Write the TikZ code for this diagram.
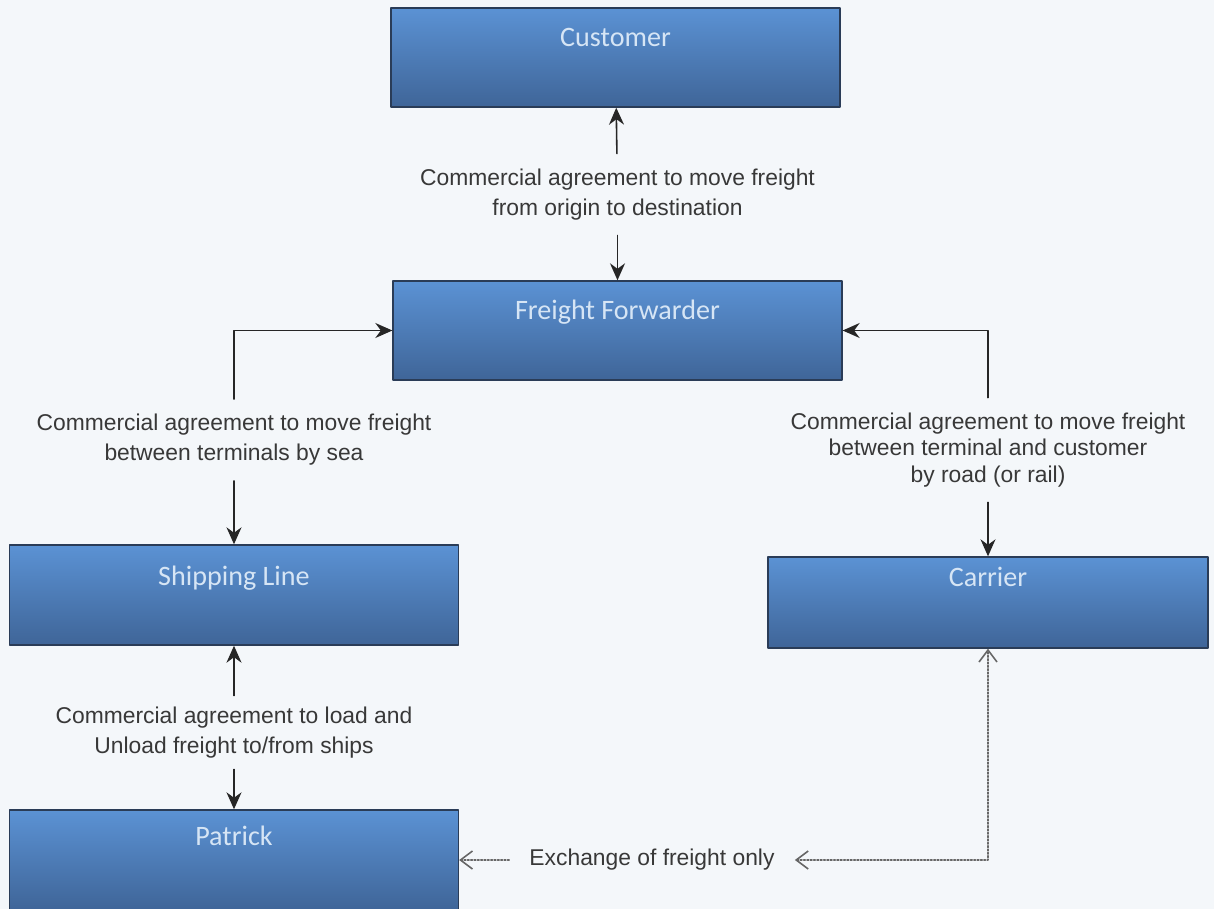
\documentclass[tikz,border=0pt]{standalone}
\usepackage{fontspec}
\setmainfont{Liberation Sans}
\newfontfamily\boxfont{Carlito}
\usetikzlibrary{arrows.meta}
\definecolor{paper}{HTML}{F4F7FA}
\definecolor{boxtop}{HTML}{5B92D4}
\definecolor{boxbot}{HTML}{3F6598}
\definecolor{boxline}{HTML}{2A3C57}
\definecolor{boxtext}{HTML}{D6E5F5}
\definecolor{labelgray}{HTML}{383838}
\tikzset{
  entity/.style={draw=boxline,line width=0.8pt,top color=boxtop,bottom color=boxbot,
    minimum width=8.98cm,inner sep=0pt,text height=0.76cm,text depth=1.22cm,
    text=boxtext,font=\boxfont\fontsize{16}{19}\selectfont},
  agreement/.style={text=labelgray,align=center,inner xsep=2pt,inner ysep=0.3cm,
    font=\fontsize{13}{17}\selectfont},
  link/.style={line width=0.9pt,draw=black!85,-{Stealth[length=3.4mm,width=3mm]}},
  exch/.style={densely dotted,line width=0.9pt,draw=black!60,
    {Straight Barb[length=2.4mm,width=3.6mm]}-{Straight Barb[length=2.4mm,width=3.6mm]}}
}
\begin{document}
\begin{tikzpicture}[line cap=round,line join=round,x=0.02cm,y=-0.02cm]
\fill[paper] (0,0) rectangle (1214,909);
\useasboundingbox (0,0) rectangle (1214,909);
\clip (0,0) rectangle (1214,909);
% boxes
\node[entity] (customer) at (615.5,57.5) {Customer};
\node[entity] (ff) at (617.5,330.5) {Freight Forwarder};
\node[entity,text height=0.8cm,text depth=1.2cm] (ship) at (234,595) {Shipping Line};
\node[entity,minimum width=8.8cm,text height=0.58cm,text depth=1.24cm] (carrier) at (988,602.5) {Carrier};
\node[entity,text height=0.7cm,text depth=1.3cm] (patrick) at (234,860) {Patrick};
% agreements
\node[agreement] (custff) at (617.5,194.5) {Commercial agreement to move freight\\from origin to destination};
\node[agreement] (seaff) at (234,440) {Commercial agreement to move freight\\between terminals by sea};
\node[agreement,font=\fontsize{13}{15}\selectfont] (roadff) at (988,450) {Commercial agreement to move freight\\between terminal and customer\\by road (or rail)};
\node[agreement,inner ysep=0.22cm] (stevedore) at (234,732.5) {Commercial agreement to load and\\Unload freight to/from ships};
\node[text=labelgray,font=\fontsize{13}{17}\selectfont,inner xsep=0.4cm] (exchange) at (652,860) {Exchange of freight only};
% connectors
\draw[link] (custff) -- (customer);
\draw[link] (custff) -- (ff);
\draw[link] (seaff) |- (ff.west);
\draw[link] (seaff) -- (ship);
\draw[link] (roadff) |- (ff.east);
\draw[link] (roadff) -- (carrier.north -| roadff);
\draw[link] (stevedore) -- (ship);
\draw[link] (stevedore) -- (patrick);
\draw[exch] (exchange) -| (carrier);
\draw[exch,-{Straight Barb[length=2.4mm,width=3.6mm]}] (exchange) -- (patrick);
\end{tikzpicture}
\end{document}
